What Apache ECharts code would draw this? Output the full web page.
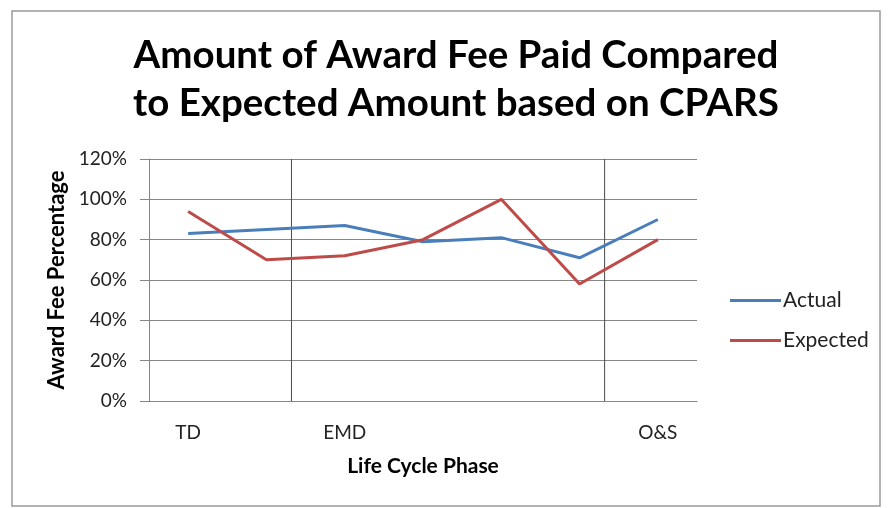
<!DOCTYPE html>
<html>
<head>
<meta charset="utf-8">
<script src="https://cdn.jsdelivr.net/npm/echarts@6/dist/echarts.min.js"></script>
<style>
html,body{margin:0;padding:0;background:#fff;}
#c{width:888px;height:508px;}
</style>
</head>
<body>
<div id="c"></div>
<script>
const categories = ['TD', '', 'EMD', '', '', '', 'O&S'];
const actual = [83, 85, 87, 79, 81, 71, 90];
const expected = [94, 70, 72, 80, 100, 58, 80];
const yTicks = [0, 20, 40, 60, 80, 100, 120];
const phaseDividers = [1.32, 5.32];

const yMin = yTicks[0], yMax = yTicks[yTicks.length - 1];

const FONT = 'Lato';
const dividerSeries = phaseDividers.map((d, i) => ({
  name: 'divider' + i,
  type: 'line',
  xAxisIndex: 1,
  data: [[d, yMin], [d, yMax]],
  symbol: 'none',
  silent: true,
  lineStyle: {color: '#4a4a4a', width: 1},
  z: 1
}));

const chart = echarts.init(document.getElementById('c'), null, {renderer: 'canvas'});
chart.setOption({
  animation: false,
  backgroundColor: '#ffffff',
  graphic: [{
    type: 'rect',
    shape: {x: 12, y: 11, width: 868, height: 495},
    style: {fill: 'none', stroke: '#9a9a9a', lineWidth: 1.5},
    silent: true
  }],
  title: {
    text: 'Amount of Award Fee Paid Compared\nto Expected Amount based on CPARS',
    left: 451, top: 27, textAlign: 'center',
    textStyle: {fontFamily: FONT, fontWeight: 'bold', fontSize: 38.5, lineHeight: 48, color: '#000'}
  },
  legend: {
    data: ['Actual', 'Expected'],
    orient: 'vertical',
    left: 730, top: 290, padding: 0,
    itemWidth: 51, itemHeight: 3, itemGap: 19,
    icon: 'rect',
    textStyle: {fontFamily: FONT, fontSize: 21, color: '#222', padding: [0, 0, 0, -3]}
  },
  grid: {left: 149, right: 191, top: 159, bottom: 107},
  xAxis: [{
    type: 'category',
    data: categories,
    boundaryGap: true,
    name: 'Life Cycle Phase',
    nameLocation: 'middle',
    nameGap: 55,
    nameTextStyle: {fontFamily: FONT, fontWeight: 'bold', fontSize: 21, color: '#000'},
    axisLine: {onZero: false, lineStyle: {color: '#868686', width: 1}},
    axisTick: {show: false},
    axisLabel: {interval: 0, fontFamily: FONT, fontSize: 19, color: '#222', margin: 22},
    splitLine: {show: false}
  }, {
    type: 'value',
    min: -0.5, max: categories.length - 0.5,
    show: false
  }],
  yAxis: {
    type: 'value',
    min: yMin, max: yMax, interval: 20,
    name: 'Award Fee Percentage',
    nameLocation: 'middle',
    nameGap: 81,
    nameRotate: 90,
    nameTextStyle: {fontFamily: FONT, fontWeight: 'bold', fontSize: 22, color: '#000'},
    axisLine: {show: true, onZero: false, lineStyle: {color: '#868686', width: 1}},
    axisTick: {show: true, inside: false, length: 9, lineStyle: {color: '#868686'}},
    axisLabel: {formatter: '{value}%', fontFamily: FONT, fontSize: 19, color: '#222', margin: 22},
    splitLine: {lineStyle: {color: '#868686', width: 1}}
  },
  series: dividerSeries.concat([{
    name: 'Actual',
    type: 'line',
    data: actual,
    symbol: 'none',
    color: '#4A7EBB',
    lineStyle: {color: '#4A7EBB', width: 3},
    z: 3
  }, {
    name: 'Expected',
    type: 'line',
    data: expected,
    symbol: 'none',
    color: '#BE4B48',
    lineStyle: {color: '#BE4B48', width: 3},
    z: 3
  }])
});
</script>
</body>
</html>
